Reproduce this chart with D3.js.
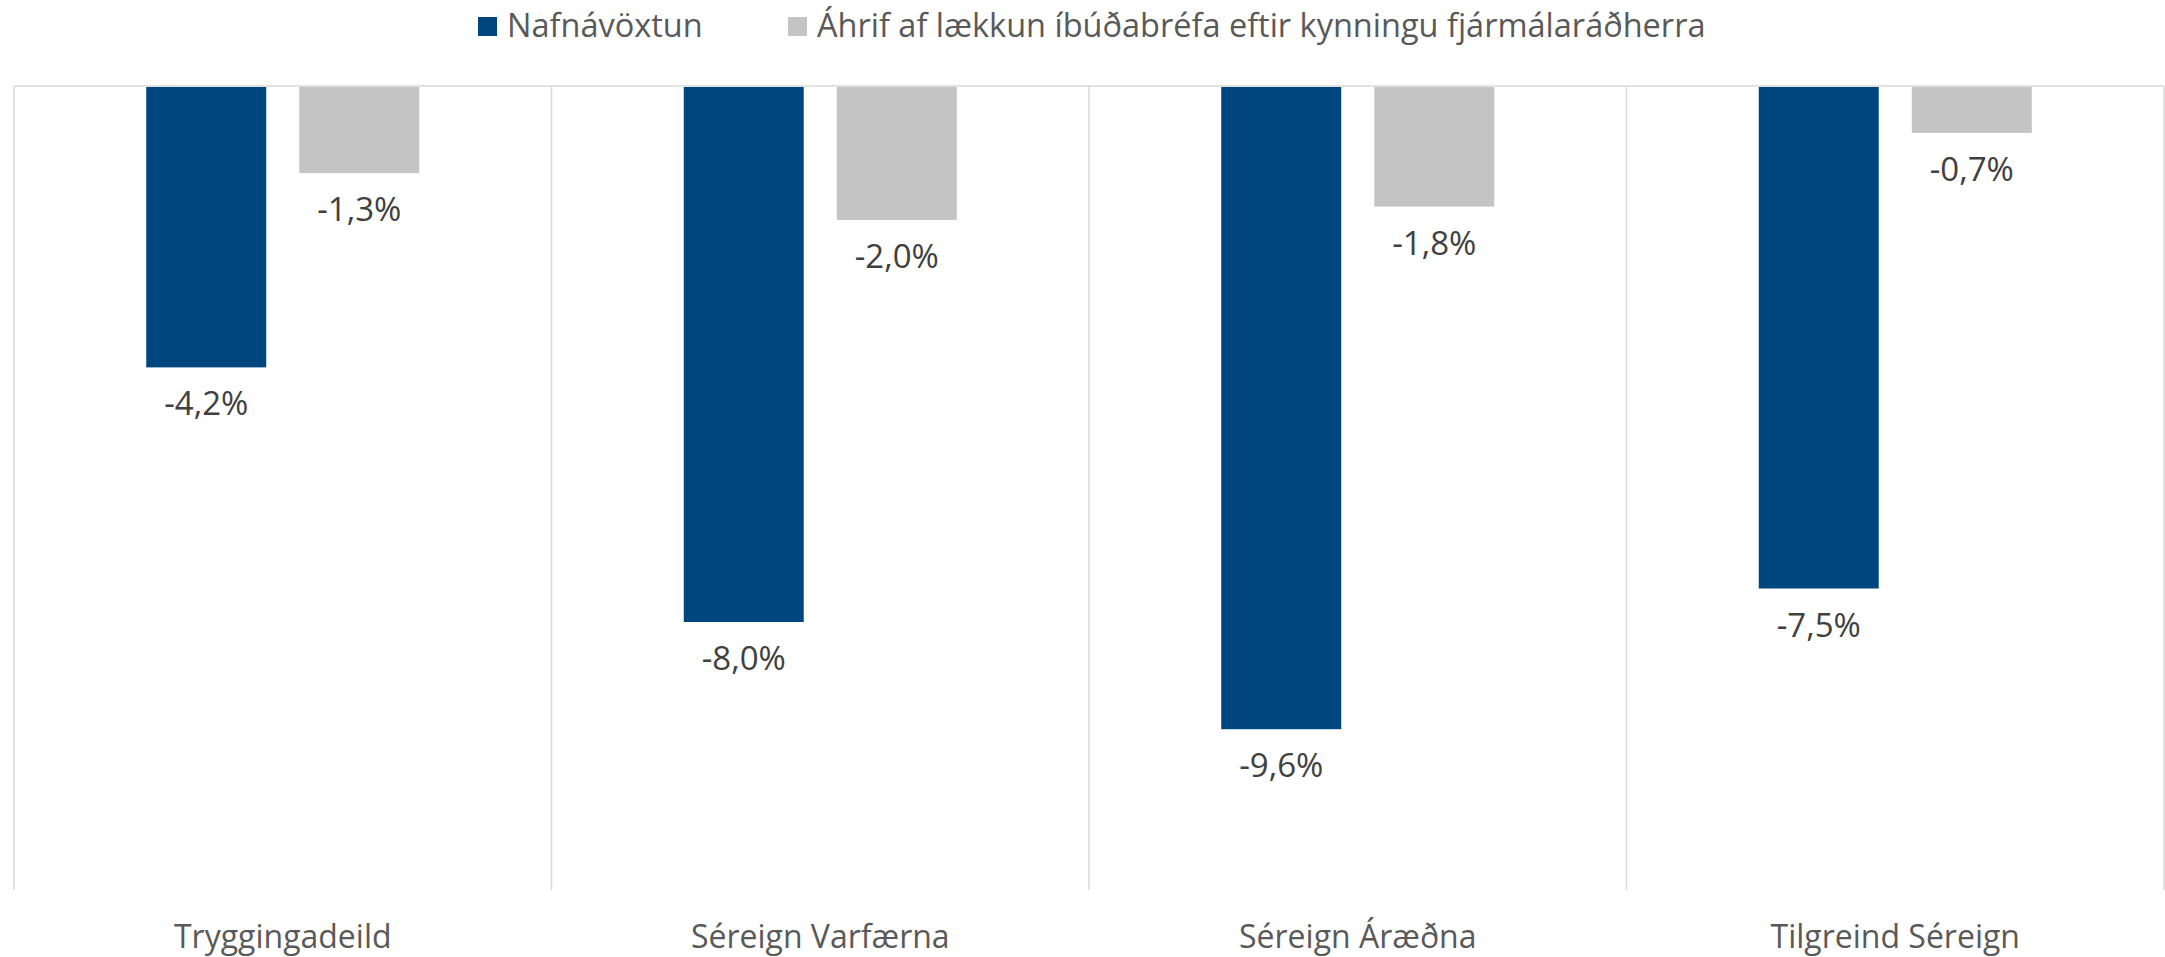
<!DOCTYPE html>
<html>
<head>
<meta charset="utf-8">
<script src="https://cdn.jsdelivr.net/npm/d3@7"></script>
<style>
  body { margin: 0; background: #fff; }
  svg { display: block; font-family: "Open Sans", sans-serif; }
</style>
</head>
<body>
<svg id="chart" width="2165" height="957"></svg>
<script>
// data
var categories = ["Tryggingadeild", "Séreign Varfærna", "Séreign Áræðna", "Tilgreind Séreign"];
var seriesNames = ["Nafnávöxtun", "Áhrif af lækkun íbúðabréfa eftir kynningu fjármálaráðherra"];
var nafnavoxtun = [-4.2, -8.0, -9.6, -7.5];
var ahrif = [-1.3, -2.0, -1.8, -0.7];
var seriesColors = ["#00467E", "#C4C4C4"];

(function() {
  var svg = d3.select("#chart");
  var plotL = 14, plotR = 2164, plotT = 86, plotB = 890;

  var x0 = d3.scaleBand().domain(categories).range([plotL, plotR]);
  var groupW = 273;
  var x1 = d3.scaleBand().domain([0, 1]).range([0, groupW]).paddingInner(0.216);
  var y = d3.scaleLinear().domain([-12, 0]).range([plotB, plotT]);

  var fmt = function(v) { return d3.format(".1f")(v).replace("−", "-").replace(".", ",") + "%"; };

  // frame: vertical separators + zero line
  var grid = svg.append("g").attr("stroke", "#D9D9D9").attr("stroke-width", 1.5);
  var bounds = categories.map(function(c) { return x0(c); }).concat([plotR]);
  grid.selectAll("line.sep").data(bounds).enter().append("line")
    .attr("x1", function(d) { return d; }).attr("x2", function(d) { return d; })
    .attr("y1", plotT).attr("y2", plotB);
  grid.append("line").attr("x1", plotL).attr("x2", plotR).attr("y1", y(0)).attr("y2", y(0));

  var rows = categories.map(function(c, i) { return { cat: c, vals: [nafnavoxtun[i], ahrif[i]] }; });

  var groups = svg.selectAll("g.cat").data(rows).enter().append("g")
    .attr("class", "cat")
    .attr("transform", function(d) { return "translate(" + (x0(d.cat) + (x0.bandwidth() - groupW) / 2) + ",0)"; });

  groups.selectAll("rect").data(function(d) { return d.vals; }).enter().append("rect")
    .attr("x", function(d, i) { return x1(i); })
    .attr("width", x1.bandwidth())
    .attr("y", y(0) + 1)
    .attr("height", function(d) { return y(d) - y(0) - 1; })
    .attr("fill", function(d, i) { return seriesColors[i]; });

  groups.selectAll("text").data(function(d) { return d.vals; }).enter().append("text")
    .attr("x", function(d, i) { return x1(i) + x1.bandwidth() / 2; })
    .attr("y", function(d) { return y(d) + 48; })
    .attr("text-anchor", "middle")
    .attr("font-size", 33)
    .attr("fill", "#404040")
    .text(fmt);

  // category labels
  svg.selectAll("text.catlab").data(categories).enter().append("text")
    .attr("class", "catlab")
    .attr("x", function(d) { return x0(d) + x0.bandwidth() / 2; })
    .attr("y", 948)
    .attr("text-anchor", "middle")
    .attr("font-size", 32)
    .attr("fill", "#595959")
    .text(function(d) { return d; });

  // legend
  var legX = [478, 788];
  var leg = svg.selectAll("g.leg").data(seriesNames).enter().append("g")
    .attr("class", "leg")
    .attr("transform", function(d, i) { return "translate(" + legX[i] + ",17)"; });
  leg.append("rect").attr("width", 19).attr("height", 19)
    .attr("fill", function(d, i) { return seriesColors[i]; });
  leg.append("text").attr("x", 29).attr("y", 20)
    .attr("font-size", 32.5)
    .attr("fill", "#595959")
    .text(function(d) { return d; });
})();
</script>
</body>
</html>
